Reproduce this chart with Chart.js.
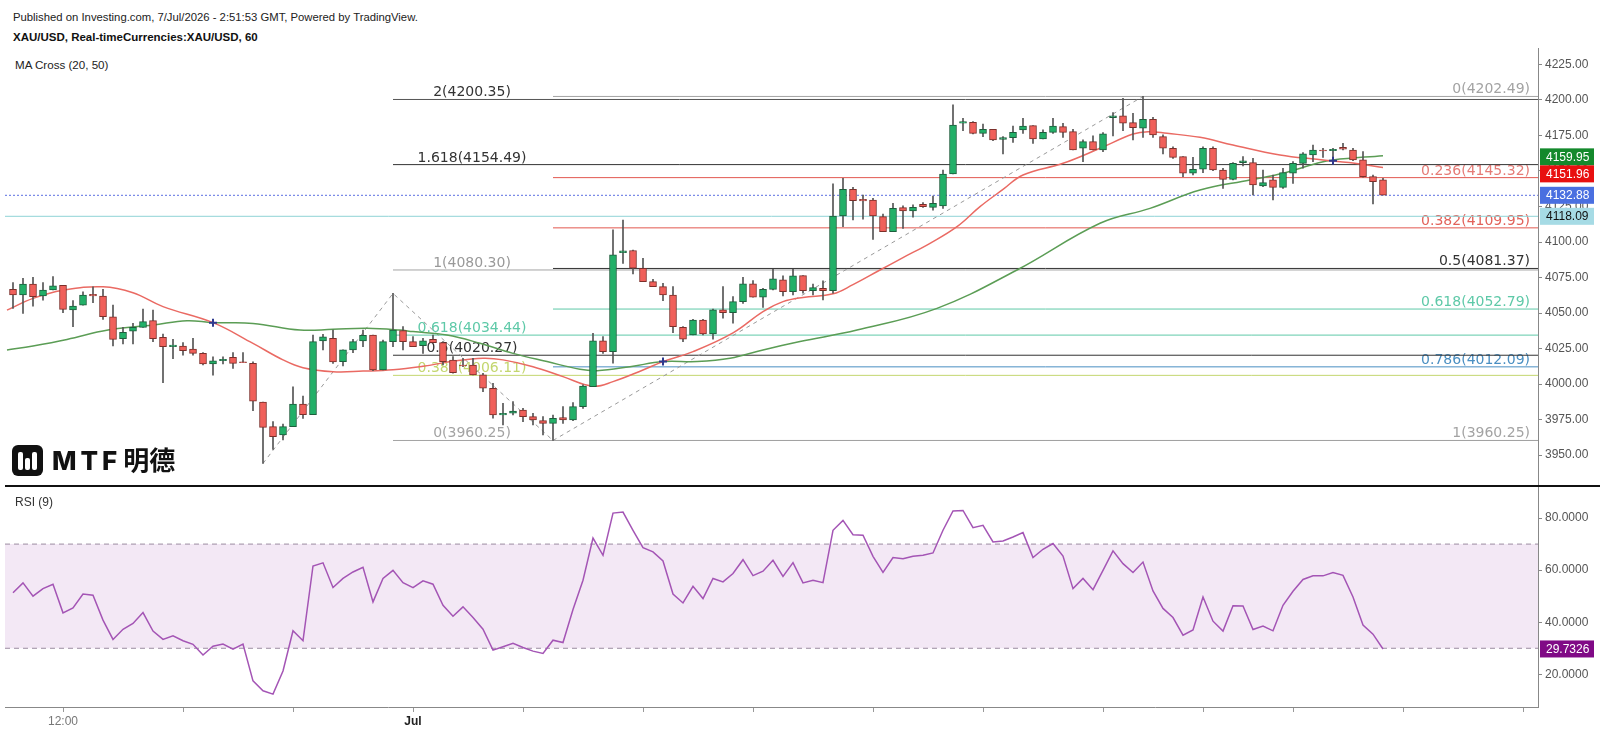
<!DOCTYPE html>
<html>
<head>
<meta charset="utf-8">
<script src="https://cdn.jsdelivr.net/npm/chart.js@4.4.1/dist/chart.umd.min.js"></script>
<style>
  body { margin: 0; background: #fff; width: 1600px; height: 734px; position: relative; overflow: hidden;
         font-family: "Liberation Sans", Arial, sans-serif; }
  .txt { position: absolute; white-space: nowrap; color: #222; }
  #priceChart { position: absolute; left: 0; top: 48px; }
  #rsiChart { position: absolute; left: 0; top: 486px; }
  #sep { position: absolute; left: 5px; top: 485px; width: 1595px; height: 2px; background: #111; }
  #logo { position: absolute; left: 12px; top: 445px; width: 31px; height: 31px; background: #111; border-radius: 6px; }
  #logo span { position: absolute; bottom: 6px; width: 5px; background: #fff; border-radius: 2px; }
  #logoText { position: absolute; left: 52px; top: 440px; font-size: 26px; font-weight: 800; color: #111; white-space: nowrap; }
</style>
</head>
<body>
<div class="txt" style="left:13px;top:11px;font-size:11.3px;">Published on Investing.com, 7/Jul/2026 - 2:51:53 GMT, Powered by TradingView.</div>
<div class="txt" style="left:13px;top:31px;font-size:11.5px;font-weight:bold;color:#111;">XAU/USD, Real-timeCurrencies:XAU/USD, 60</div>
<div class="txt" style="left:15px;top:58px;font-size:11.6px;">MA Cross (20, 50)</div>

<canvas id="priceChart" width="1600" height="438"></canvas>
<canvas id="rsiChart" width="1600" height="248"></canvas>
<div id="sep"></div>
<div class="txt" style="left:15px;top:495px;font-size:12px;color:#333;">RSI (9)</div>

<div id="logo"><span style="left:6px;height:18px"></span><span style="left:13px;height:12px"></span><span style="left:20px;height:18px"></span></div>
<div id="logoText"><span style="font-family:Inter;letter-spacing:4px;">MTF</span><span style="font-family:'Noto Sans CJK SC';font-weight:700;margin-left:2px;">明德</span></div>

<script>
// XAU/USD hourly candles
const open = [4066.7,4062.7,4070.4,4062.0,4066.2,4069.5,4052.1,4055.6,4063.1,4062.0,
  4047.4,4031.9,4037.3,4039.9,4044.6,4032.9,4026.3,4026.8,4024.6,4021.6,
  4014.1,4016.4,4018.8,4015.5,4014.5,3987.3,3970.0,3964.1,3970.0,3985.9,
  3978.4,4030.3,4032.2,4015.7,4024.0,4030.3,4034.5,4009.9,4029.8,4037.6,
  4029.9,4027.0,4031.5,4029.1,4016.9,4013.4,4013.4,4006.4,3997.0,3978.2,
  3979.4,3981.7,3977.0,3974.2,3972.3,3976.3,3974.7,3984.1,3998.2,4030.5,
  4022.8,4092.5,4094.0,4081.5,4072.1,4068.6,4062.7,4040.0,4034.5,4045.1,
  4035.2,4052.2,4050.3,4058.0,4070.5,4061.1,4066.7,4073.3,4065.1,4076.3,
  4065.8,4067.4,4065.8,4118.3,4137.1,4130.1,4129.6,4117.9,4107.3,4124.2,
  4121.8,4126.5,4124.4,4125.4,4147.9,4183.6,4184.3,4176.5,4179.4,4172.3,
  4173.5,4178.9,4181.9,4172.6,4177.2,4181.2,4177.7,4166.0,4170.7,4164.8,
  4187.6,4188.8,4184.0,4180.1,4186.4,4174.2,4166.0,4160.1,4148.4,4151.2,
  4166.0,4150.7,4144.1,4155.9,4155.9,4139.5,4143.7,4138.5,4148.4,4155.4,
  4161.3,4164.8,4164.3,4166.7,4164.8,4157.8,4146.0,4143.7];
const high = [4071.4,4074.4,4075.1,4071.4,4075.6,4069.5,4058.7,4065.0,4068.5,4066.7,
  4055.6,4039.9,4042.7,4052.8,4052.1,4035.2,4031.4,4029.1,4032.1,4022.1,
  4019.2,4019.2,4022.1,4022.1,4015.7,3987.3,3973.5,3971.8,3998.1,3991.5,
  4034.5,4035.0,4038.0,4024.0,4031.4,4038.0,4034.5,4031.0,4063.8,4040.4,
  4033.4,4032.2,4034.5,4029.9,4019.3,4018.1,4018.1,4007.6,4000.5,3986.4,
  3987.6,3982.9,3979.4,3977.0,3978.2,3984.1,3986.9,3999.4,4035.7,4033.4,
  4108.5,4115.5,4094.4,4088.5,4073.7,4070.9,4068.6,4040.4,4045.6,4045.6,
  4052.7,4068.6,4061.5,4075.2,4072.8,4067.4,4080.8,4076.1,4080.8,4076.3,
  4070.4,4072.6,4140.9,4144.9,4138.5,4133.1,4130.8,4119.7,4127.2,4125.4,
  4126.1,4127.7,4132.4,4150.7,4196.5,4187.1,4184.8,4183.1,4179.4,4174.2,
  4181.7,4187.1,4181.9,4178.9,4187.1,4183.6,4179.4,4171.9,4174.7,4177.0,
  4191.1,4201.2,4190.6,4202.5,4187.8,4175.4,4167.1,4160.1,4159.6,4167.1,
  4167.1,4151.9,4155.9,4160.1,4158.9,4150.7,4147.2,4151.9,4156.6,4163.0,
  4168.3,4166.0,4166.0,4169.5,4166.0,4163.6,4147.2,4144.9];
const low = [4053.3,4049.8,4054.9,4059.1,4066.2,4050.2,4040.4,4055.6,4057.3,4045.5,
  4026.8,4028.2,4028.2,4039.9,4029.8,4000.9,4017.8,4020.4,4020.4,4013.4,
  4006.3,4014.1,4011.0,4015.0,3981.2,3944.1,3954.0,3960.6,3970.0,3975.8,
  3978.4,4024.0,4014.5,4012.7,4022.1,4026.3,4009.4,4009.9,4026.3,4024.0,
  4026.3,4021.6,4029.1,4013.4,4007.6,4012.2,4006.4,3994.6,3975.9,3971.2,
  3978.2,3973.5,3971.2,3964.1,3960.3,3972.3,3974.2,3982.9,3998.2,4021.6,
  4014.6,4085.0,4077.5,4072.1,4068.6,4058.7,4036.2,4029.9,4034.5,4034.5,
  4031.5,4046.3,4042.8,4056.8,4061.1,4054.0,4066.3,4062.0,4062.7,4063.9,
  4062.7,4059.2,4063.9,4110.8,4115.5,4116.0,4101.9,4107.3,4107.3,4109.6,
  4117.4,4124.4,4122.5,4123.7,4147.9,4178.4,4176.1,4174.2,4171.4,4162.0,
  4170.2,4176.5,4169.5,4172.6,4176.5,4173.7,4164.8,4156.6,4164.8,4163.6,
  4174.7,4178.4,4171.8,4173.7,4173.7,4162.0,4158.9,4146.0,4147.2,4148.8,
  4150.3,4137.8,4143.7,4153.5,4133.1,4139.0,4129.6,4137.8,4141.3,4151.9,
  4156.6,4159.6,4156.6,4164.8,4157.3,4145.6,4126.8,4133.1];
const close = [4062.7,4070.4,4061.5,4066.2,4069.2,4052.6,4054.9,4062.7,4062.0,4047.4,
  4031.4,4036.4,4039.9,4043.9,4031.9,4026.3,4027.5,4023.5,4021.6,4014.1,
  4016.4,4017.4,4014.5,4015.0,3988.0,3969.5,3962.9,3970.0,3985.9,3978.4,
  4029.8,4033.3,4015.5,4024.0,4029.8,4034.3,4009.9,4029.8,4038.0,4029.9,
  4026.3,4030.5,4029.1,4015.8,4008.0,4012.7,4006.4,3997.0,3978.2,3979.4,
  3981.0,3977.0,3974.7,3972.3,3975.9,3974.7,3984.1,3998.6,4030.5,4022.8,
  4090.9,4093.7,4081.5,4072.1,4068.6,4062.7,4040.4,4031.5,4045.1,4035.2,
  4052.2,4050.3,4058.0,4070.5,4061.1,4066.7,4074.0,4065.1,4076.1,4065.8,
  4067.9,4065.8,4118.3,4137.1,4129.1,4128.9,4118.3,4107.3,4123.7,4121.8,
  4124.4,4124.9,4127.2,4147.9,4182.4,4184.8,4176.5,4179.4,4171.8,4173.5,
  4177.2,4181.7,4172.6,4177.2,4181.7,4177.2,4164.8,4170.7,4164.8,4176.1,
  4188.8,4183.6,4180.5,4186.4,4175.4,4166.0,4159.6,4148.4,4151.2,4166.0,
  4150.7,4144.1,4155.4,4157.1,4140.2,4141.8,4138.5,4148.8,4155.4,4162.0,
  4164.8,4164.1,4165.3,4165.3,4157.8,4146.0,4142.5,4132.9];

// RSI(9), one value per candle
const rsi = [51.3,55.1,50.0,52.9,54.6,43.6,45.5,50.8,50.4,40.8,
  33.4,37.3,39.5,43.7,36.6,33.4,34.8,32.9,31.5,27.4,
  30.8,31.6,29.7,31.6,17.5,13.7,12.4,21.3,36.7,32.9,
  61.6,62.8,53.3,56.8,59.3,61.1,47.8,56.8,59.9,55.2,
  53.3,55.9,54.6,46.5,42.3,45.9,41.8,37.3,29.3,30.6,
  31.9,30.3,28.9,28.0,33.1,32.2,44.9,56.1,72.3,65.7,
  81.9,82.3,75.3,68.6,67.0,63.5,50.8,47.4,53.8,49.1,
  56.8,55.5,58.7,64.0,57.9,59.6,63.8,57.6,62.9,55.1,
  56.1,55.2,75.3,79.1,73.6,73.4,65.3,59.1,64.8,64.4,
  65.3,65.7,66.6,75.3,82.7,82.9,76.3,77.2,70.8,71.2,
  72.7,74.4,64.8,68.0,70.2,65.4,52.9,56.8,52.5,59.9,
  67.4,62.5,59.1,63.1,52.0,45.3,41.8,35.0,37.0,49.7,
  40.4,36.6,46.3,46.2,37.2,38.5,36.7,46.5,51.9,56.4,
  57.8,57.8,59.1,58.0,49.7,38.9,35.4,29.7326];

// Moving averages, read at sample bars (bar index, value)
const ma20Idx = [-0.6,2,5,9,12,15,20,24,27,29,32,35,38,41,44,47,49,52,55,58,60,63,65,68,72,75,77,79,82,84,86.7,89,91.7,94.4,96.7,99,101,105,108.7,112,113.5,115.4,118.7,122,126.7,130.4,134.7,137];
const ma20Val = [4052,4060.3,4066,4068.5,4064.3,4054.5,4043.2,4028.6,4017,4011.5,4008.7,4009.1,4010,4012.5,4016,4018.1,4017,4012.2,4005.2,3998.5,4001.7,4009.9,4015.8,4022.8,4036,4051,4058,4061,4063.5,4070,4080.3,4089,4099.1,4110.8,4124.9,4137,4147.2,4155.4,4166,4176,4177.7,4176.5,4173.7,4168.3,4161.3,4158.2,4155.0,4152.4];
const ma50Idx = [-0.6,2,5.4,9.5,14,17.4,20,24,28.7,32,35.4,38.7,40,43.4,46.7,50,53.4,56.7,58.4,61.7,65,68.4,71.7,75,78.7,84.4,92.4,100.4,108.7,113.7,118.7,123.7,127,130.4,132,137];
const ma50Val = [4023.9,4026.8,4031.4,4038.0,4041.5,4044.6,4043.2,4042.7,4038.0,4038.5,4039.2,4038.0,4036.9,4034.5,4028.7,4021.6,4015.8,4010.4,4009.4,4012.2,4015.8,4015.8,4018.1,4024.0,4029.9,4038,4053.3,4080.3,4113.2,4123.7,4136.6,4143.7,4148.4,4155.4,4157.8,4160.8];
const crossIdx = [20, 65, 132];
const crossVal = [4043.2, 4015.9, 4157.2];

// Fibonacci drawings
const extLevels = ["2", "1.618", "1", "0.618", "0.5", "0.382", "0"];
const extPrices = [4200.35, 4154.49, 4080.30, 4034.44, 4020.27, 4006.11, 3960.25];
const extPivotIdx = [25, 38, 54];
const extPivotPx = [3944.1, 4063.8, 3960.25];
const retLevels = ["0", "0.236", "0.382", "0.5", "0.618", "0.786", "1"];
const retPrices = [4202.49, 4145.32, 4109.95, 4081.37, 4052.79, 4012.09, 3960.25];
const retPivotIdx = [54, 113];
const retPivotPx = [3960.25, 4202.49];

// horizontal lines and last-value tags
const lastPrice = 4132.88;
const hLinePrice = 4118.09;
const priceTags = [4159.95, 4151.96, 4132.88, 4118.09];

// axis ticks
const priceTicks = [3950, 3975, 4000, 4025, 4050, 4075, 4100, 4125, 4150, 4175, 4200, 4225];
const rsiTicks = [20, 40, 60, 80];
const timeTickIdx = [5, 17, 28, 40, 51, 63, 74, 86, 97, 109, 119, 128, 139, 151];
const timeTickLabels = ["12:00", "", "", "Jul", "", "", "", "", "", "", "", "", "", ""];

// ---------- styles ----------
const X_MIN = -0.8, X_MAX = 152.5;
const UP = "#22b068", DOWN = "#f0605a";
const UP_EDGE = "#1d5e3c", DOWN_EDGE = "#7c2f2a";
const extColors = ["#555555", "#333333", "#a3a3a3", "#5ec9a8", "#333333", "#c3d66e", "#a3a3a3"];
const extTextColors = ["#333333", "#333333", "#999999", "#5ec9a8", "#333333", "#c3d66e", "#a3a3a3"];
const retColors = ["#a3a3a3", "#e2574f", "#e2574f", "#333333", "#5ec9a8", "#4a8fc2", "#a3a3a3"];
const retTextColors = ["#a3a3a3", "#e57b76", "#e2625a", "#333333", "#5ec9a8", "#4a8fc2", "#a3a3a3"];
const tagBg = ["#14892c", "#e81010", "#4a6fe0", "#a6dbe5"];
const tagFg = ["#ffffff", "#ffffff", "#ffffff", "#111111"];

Chart.defaults.font.family = '"Liberation Sans", Arial, sans-serif';
Chart.defaults.animation = false;

const idx = close.map((_, i) => i);

function hLine(y, x0, color, extra) {
  return Object.assign({
    type: "line",
    data: [{ x: x0, y: y }, { x: X_MAX, y: y }],
    borderColor: color, borderWidth: 1, pointRadius: 0, order: 3
  }, extra || {});
}

const priceDatasets = [
  {
    type: "bar", grouped: false, order: 0,
    data: idx.map(i => ({ x: i, y: [open[i], close[i]] })),
    backgroundColor: idx.map(i => close[i] >= open[i] ? UP : DOWN),
    borderColor: idx.map(i => close[i] >= open[i] ? UP_EDGE : DOWN_EDGE),
    borderWidth: 1, borderSkipped: false, barThickness: 7, minBarLength: 1
  },
  {
    type: "bar", grouped: false, order: 1,
    data: idx.map(i => ({ x: i, y: [low[i], high[i]] })),
    backgroundColor: "#555", barThickness: 1
  },
  {
    type: "line", order: 2, data: ma20Idx.map((x, k) => ({ x: x, y: ma20Val[k] })),
    borderColor: "#ea6a63", borderWidth: 1.5, pointRadius: 0, tension: 0.4
  },
  {
    type: "line", order: 2, data: ma50Idx.map((x, k) => ({ x: x, y: ma50Val[k] })),
    borderColor: "#5b9d55", borderWidth: 1.5, pointRadius: 0, tension: 0.4
  },
  {
    type: "line", order: -1, data: crossIdx.map((x, k) => ({ x: x, y: crossVal[k] })),
    showLine: false, pointStyle: "cross", pointRadius: 4, borderColor: "#2f3a8f", borderWidth: 2
  },
  {
    type: "line", order: 3, data: extPivotIdx.map((x, k) => ({ x: x, y: extPivotPx[k] })),
    borderColor: "#9a9a9a", borderWidth: 1, borderDash: [4, 4], pointRadius: 0
  },
  {
    type: "line", order: 3, data: retPivotIdx.map((x, k) => ({ x: x, y: retPivotPx[k] })),
    borderColor: "#9a9a9a", borderWidth: 1, borderDash: [4, 4], pointRadius: 0
  },
  hLine(lastPrice, X_MIN, "#5b6ee1", { borderDash: [2, 2] }),
  hLine(hLinePrice, X_MIN, "#8fd3d6")
];
extPrices.forEach((p, k) => priceDatasets.push(hLine(p, extPivotIdx[1], extColors[k])));
retPrices.forEach((p, k) => priceDatasets.push(hLine(p, retPivotIdx[0], retColors[k])));

// fib labels, drawn below the candles
const fibLabels = {
  id: "fibLabels",
  beforeDatasetsDraw(chart) {
    const { ctx, chartArea, scales } = chart;
    ctx.save();
    ctx.font = '14px "DejaVu Sans"';
    ctx.textBaseline = "alphabetic";
    const cx = scales.x.getPixelForValue(extPivotIdx[1]) + 79;
    ctx.textAlign = "center";
    extPrices.forEach((p, k) => {
      ctx.fillStyle = extTextColors[k];
      ctx.fillText(extLevels[k] + "(" + p.toFixed(2) + ")", cx, scales.y.getPixelForValue(p) - 3);
    });
    ctx.textAlign = "right";
    retPrices.forEach((p, k) => {
      ctx.fillStyle = retTextColors[k];
      ctx.fillText(retLevels[k] + "(" + p.toFixed(2) + ")", chartArea.right - 8, scales.y.getPixelForValue(p) - 3);
    });
    ctx.restore();
  }
};

function drawTag(ctx, area, y, text, bg, fg) {
  const h = 17;
  ctx.fillStyle = bg;
  ctx.fillRect(area.right + 2, y - h / 2, 54, h);
  ctx.fillStyle = fg;
  ctx.font = '12px "Liberation Sans"';
  ctx.textAlign = "left";
  ctx.textBaseline = "middle";
  ctx.fillText(text, area.right + 8, y + 0.5);
}

const priceTagsPlugin = {
  id: "priceTags",
  afterDraw(chart) {
    const { ctx, chartArea, scales } = chart;
    ctx.save();
    let prevBottom = -Infinity;
    priceTags.forEach((v, k) => {
      let y = scales.y.getPixelForValue(v);
      if (y - 8.5 < prevBottom) y = prevBottom + 8.5;
      prevBottom = y + 8.5;
      drawTag(ctx, chartArea, y, v.toFixed(2), tagBg[k], tagFg[k]);
    });
    ctx.restore();
  }
};

new Chart(document.getElementById("priceChart"), {
  type: "bar",
  data: { datasets: priceDatasets },
  options: {
    responsive: false, devicePixelRatio: 1, events: [],
    layout: { autoPadding: false, padding: { left: 5, right: 0, top: 0, bottom: 0 } },
    plugins: { legend: { display: false }, tooltip: { enabled: false } },
    scales: {
      x: { type: "linear", min: X_MIN, max: X_MAX, offset: false, display: false },
      y: {
        position: "right", min: 3928.2, max: 4236.6,
        grid: { drawOnChartArea: false, tickLength: 4, tickColor: "#888" },
        border: { color: "#888" },
        ticks: { color: "#555", font: { size: 12 }, padding: 3, callback: v => v.toFixed(2) },
        afterBuildTicks: s => { s.ticks = priceTicks.map(v => ({ value: v })); },
        afterFit: s => { s.width = 62; s.paddingTop = 0; s.paddingBottom = 0; }
      }
    }
  },
  plugins: [fibLabels, priceTagsPlugin]
});

// RSI panel
const rsiTag = {
  id: "rsiTag",
  afterDraw(chart) {
    const { ctx, chartArea, scales } = chart;
    const v = rsi[rsi.length - 1];
    ctx.save();
    drawTag(ctx, chartArea, scales.y.getPixelForValue(v), v.toFixed(4), "#800a86", "#fff");
    ctx.restore();
  }
};

new Chart(document.getElementById("rsiChart"), {
  type: "line",
  data: {
    datasets: [
      {
        data: rsi.map((v, i) => ({ x: i, y: v })),
        borderColor: "#a455b5", borderWidth: 1.5, pointRadius: 0, tension: 0, order: 0
      },
      {
        data: [{ x: X_MIN, y: 70 }, { x: X_MAX, y: 70 }],
        borderColor: "#9b8ca0", borderWidth: 1, borderDash: [5, 4], pointRadius: 0, order: 1
      },
      {
        data: [{ x: X_MIN, y: 30 }, { x: X_MAX, y: 30 }],
        borderColor: "#9b8ca0", borderWidth: 1, borderDash: [5, 4], pointRadius: 0, order: 1,
        fill: "-1", backgroundColor: "rgba(190, 130, 200, 0.18)"
      }
    ]
  },
  options: {
    responsive: false, devicePixelRatio: 1, events: [],
    layout: { autoPadding: false, padding: { left: 5, right: 0, top: 0, bottom: 0 } },
    plugins: { legend: { display: false }, tooltip: { enabled: false } },
    scales: {
      x: {
        type: "linear", min: X_MIN, max: X_MAX,
        grid: { drawOnChartArea: false, tickLength: 5, tickColor: "#999" },
        border: { color: "#888" },
        ticks: {
          autoSkip: false, maxRotation: 0, padding: 2,
          color: c => timeTickLabels[c.index] === "Jul" ? "#222" : "#777",
          font: c => ({ size: 12, weight: timeTickLabels[c.index] === "Jul" ? "bold" : "normal" }),
          callback: (v, i) => timeTickLabels[i]
        },
        afterBuildTicks: s => { s.ticks = timeTickIdx.map(v => ({ value: v })); },
        afterFit: s => { s.height = 27; s.paddingLeft = 0; s.paddingRight = 0; }
      },
      y: {
        position: "right", min: 7.45, max: 92.3,
        grid: { drawOnChartArea: false, tickLength: 4, tickColor: "#888" },
        border: { color: "#888" },
        ticks: { color: "#555", font: { size: 12 }, padding: 3, callback: v => v.toFixed(4) },
        afterBuildTicks: s => { s.ticks = rsiTicks.map(v => ({ value: v })); },
        afterFit: s => { s.width = 62; s.paddingTop = 0; s.paddingBottom = 0; }
      }
    }
  },
  plugins: [rsiTag]
});
</script>
</body>
</html>
